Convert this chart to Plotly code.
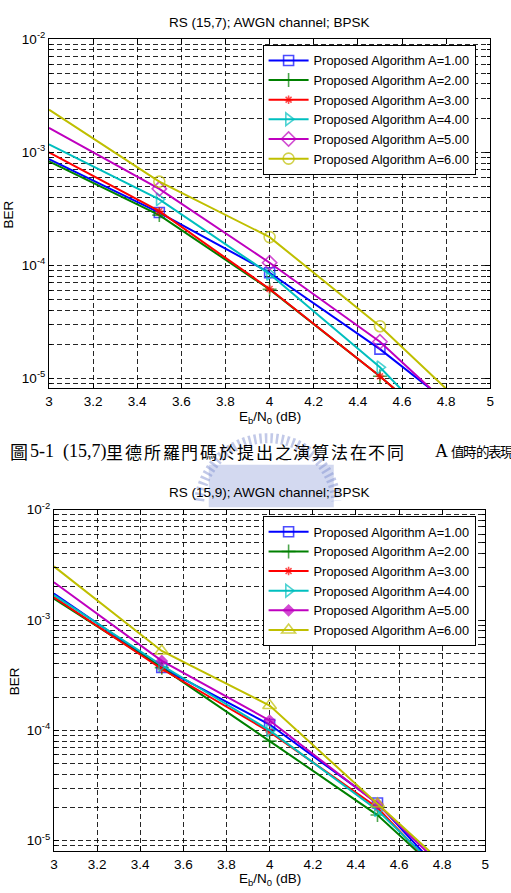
import numpy as np
import plotly.graph_objects as go

W, H = 511, 893

# ---------------- data ----------------
snr_db = [3.0, 3.5, 4.0, 4.5, 5.0]
series_names = ["Proposed Algorithm A=1.00", "Proposed Algorithm A=2.00",
                "Proposed Algorithm A=3.00", "Proposed Algorithm A=4.00",
                "Proposed Algorithm A=5.00", "Proposed Algorithm A=6.00"]

# RS (15,7)
ber157_a1 = [8.65e-4, 2.92e-4, 8.57e-5, 1.81e-5, 3.1e-6]
ber157_a2 = [8.26e-4, 2.77e-4, 6.1e-5, 1.04e-5, 1.5e-6]
ber157_a3 = [9.96e-4, 3.0e-4, 6.16e-5, 1.04e-5, 1.5e-6]
ber157_a4 = [1.17e-3, 3.82e-4, 8.34e-5, 1.25e-5, 1.22e-6]
ber157_a5 = [1.64e-3, 4.73e-4, 1.05e-4, 2.10e-5, 2.64e-6]
ber157_a6 = [2.37e-3, 5.48e-4, 1.77e-4, 2.88e-5, 3.46e-6]

# RS (15,9)
ber159_a1 = [1.74e-3, 3.71e-4, 1.13e-4, 2.2e-5, 1.92e-6]
ber159_a2 = [1.56e-3, 3.7e-4, 8.0e-5, 1.71e-5, 2.17e-6]
ber159_a3 = [1.61e-3, 3.6e-4, 9.7e-5, 1.99e-5, 1.87e-6]
ber159_a4 = [1.68e-3, 3.89e-4, 1.00e-4, 1.89e-5, 2.12e-6]
ber159_a5 = [2.20e-3, 4.26e-4, 1.23e-4, 2.15e-5, 2.44e-6]
ber159_a6 = [3.06e-3, 5.24e-4, 1.68e-4, 2.16e-5, 2.78e-6]

x_tickvals = [3, 3.2, 3.4, 3.6, 3.8, 4, 4.2, 4.4, 4.6, 4.8, 5]
x_ticktext = ["3", "3.2", "3.4", "3.6", "3.8", "4", "4.2", "4.4", "4.6", "4.8", "5"]
y_tickvals = [1e-5, 1e-4, 1e-3, 1e-2]
y_ticktext = ["10<sup>-5</sup>", "10<sup>-4</sup>", "10<sup>-3</sup>", "10<sup>-2</sup>"]

title_top = "RS (15,7); AWGN channel; BPSK"
title_bot = "RS (15,9); AWGN channel; BPSK"
x_title = "E<sub>b</sub>/N<sub>0</sub> (dB)"
y_title = "BER"

# ---------------- style ----------------
colors = ["#0000FF", "#008000", "#FF0000", "#00BFBF", "#BF00BF", "#BFBF00"]
sym_top = ["square-open", "cross-thin-open", "asterisk-open", "triangle-right-open",
           "diamond-open", "circle-open"]
sym_bot = ["square-open", "cross-thin-open", "asterisk-open", "triangle-right-open",
           "diamond", "triangle-up-open"]
msize_top = [10, 10, 7, 11, 11, 11]
msize_bot = [10, 10, 7, 11, 8, 12]

FONT = "Liberation Sans, Arial, sans-serif"
FS = 13.5
LEG_FS = 12.8


def px_x(p):
    return p / W


def px_y(p):
    return 1 - p / H


fig = go.Figure()

top_series = [ber157_a1, ber157_a2, ber157_a3, ber157_a4, ber157_a5, ber157_a6]
bot_series = [ber159_a1, ber159_a2, ber159_a3, ber159_a4, ber159_a5, ber159_a6]


def sizes(s):
    # first point sits on the axis edge without a marker; last point lies below the range
    return [0, s, s, s, 2 * s]


for i, ys in enumerate(top_series):
    fig.add_trace(go.Scatter(
        x=snr_db, y=ys, mode="lines+markers", name=series_names[i],
        line=dict(color=colors[i], width=2),
        marker=dict(symbol=sym_top[i], size=sizes(msize_top[i]), color=colors[i],
                    line=dict(color=colors[i], width=1.6)),
        xaxis="x", yaxis="y", legend="legend"))

for i, ys in enumerate(bot_series):
    fig.add_trace(go.Scatter(
        x=snr_db, y=ys, mode="lines+markers", name=series_names[i],
        line=dict(color=colors[i], width=2),
        marker=dict(symbol=sym_bot[i], size=sizes(msize_bot[i]), color=colors[i],
                    line=dict(color=colors[i], width=1.6)),
        xaxis="x2", yaxis="y2", legend="legend2"))

minor_vals = [k * 10.0 ** e for e in range(-6, -1) for k in range(2, 10)]
GRID = "rgba(0,0,0,0.85)"
DASH = "5px,3px"


def xaxis(domain, anchor):
    return dict(domain=domain, anchor=anchor, range=[3, 5],
                tickvals=x_tickvals, ticktext=x_ticktext,
                showline=True, linecolor="black", linewidth=1, mirror="ticks",
                ticks="inside", ticklen=5, tickcolor="black",
                showgrid=True, gridcolor=GRID, griddash=DASH, gridwidth=1,
                zeroline=False, tickfont=dict(family=FONT, size=FS, color="black"))


def yaxis(domain, anchor, lo):
    return dict(domain=domain, anchor=anchor, type="log", range=[lo, -2],
                tickvals=y_tickvals, ticktext=y_ticktext,
                showline=True, linecolor="black", linewidth=1, mirror="ticks",
                ticks="inside", ticklen=5, tickcolor="black",
                showgrid=True, gridcolor=GRID, griddash=DASH, gridwidth=1,
                minor=dict(tickvals=minor_vals, ticks="inside", ticklen=3,
                           tickcolor="black", showgrid=True, gridcolor=GRID,
                           griddash=DASH, gridwidth=1),
                zeroline=False, tickfont=dict(family=FONT, size=FS, color="black"))


top_x = [px_x(45.7), px_x(494)]
top_y = [px_y(382.7), px_y(29.3)]
bot_x = [px_x(50.7), px_x(489)]
bot_y = [px_y(851), px_y(505.3)]

legend_common = dict(xanchor="left", yanchor="top", bgcolor="white",
                     bordercolor="black", borderwidth=1,
                     font=dict(family=FONT, size=LEG_FS, color="black"),
                     itemwidth=40, tracegroupgap=0)

annotations = []


def ann(text, x, y, size=FS, family=FONT, xanchor="center", yanchor="middle",
        angle=0, color="black"):
    annotations.append(dict(text=text, x=px_x(x), y=px_y(y), xref="paper", yref="paper",
                            showarrow=False, xanchor=xanchor, yanchor=yanchor,
                            textangle=angle,
                            font=dict(family=family, size=size, color=color)))


ann(title_top, 270, 13)
ann(title_bot, 270, 488)
ann(x_title, 270, 412)
ann(x_title, 270, 879)
ann(y_title, 5, 207, angle=-90)
ann(y_title, 11, 679, angle=-90)

# caption between the two charts
CJK = "Noto Sans CJK TC"
SERIF = "Liberation Serif, serif"
CAP_Y = 446
ann("圖", 4, CAP_Y, size=18, family=CJK, xanchor="left")
ann("5-1", 24, CAP_Y, size=18, family=SERIF, xanchor="left")
ann("(15,7)", 58, CAP_Y, size=18, family=SERIF, xanchor="left")
for i, ch in enumerate("里德所羅門碼於提出之演算法在不同"):
    ann(ch, 102 + i * 19, CAP_Y, size=17, family=CJK, xanchor="left")
ann("A", 436, CAP_Y, size=18, family=SERIF, xanchor="left")
for i, ch in enumerate("值時的表現"):
    ann(ch, 452 + i * 12.5, CAP_Y, size=13.5, family=CJK, xanchor="left")

# faint watermark emblem (behind everything)
shapes = []
cx, cy, r = 268, 503, 70
ang = np.linspace(np.pi * 1.03, np.pi * 1.97, 120)
ring = " ".join(("M" if k == 0 else "L") + f"{px_x(cx + r * np.cos(a)):.5f},{px_y(cy + r * np.sin(a)):.5f}"
                for k, a in enumerate(ang))
shapes.append(dict(type="path", path=ring, xref="paper", yref="paper", layer="below",
                   line=dict(color="rgba(120,135,205,0.45)", width=10, dash="2.5px,3px")))
shapes.append(dict(type="rect", xref="paper", yref="paper", layer="below",
                   x0=px_x(208), x1=px_x(335), y0=px_y(503), y1=px_y(460),
                   fillcolor="rgba(130,145,212,0.35)", line=dict(width=0)))

fig.update_layout(
    width=W, height=H, margin=dict(l=0, r=0, t=0, b=0),
    paper_bgcolor="white", plot_bgcolor="white",
    showlegend=True,
    xaxis=xaxis(top_x, "y"), yaxis=yaxis(top_y, "x", -5.09),
    xaxis2=xaxis(bot_x, "y2"), yaxis2=yaxis(bot_y, "x2", -5.097),
    legend=dict(x=px_x(262.7), y=px_y(35), **legend_common),
    legend2=dict(x=px_x(262.7), y=px_y(511.7), **legend_common),
    annotations=annotations, shapes=shapes,
)

fig.write_html("out.html", config={"displayModeBar": False},
               post_script="document.body.style.margin='0px';")
